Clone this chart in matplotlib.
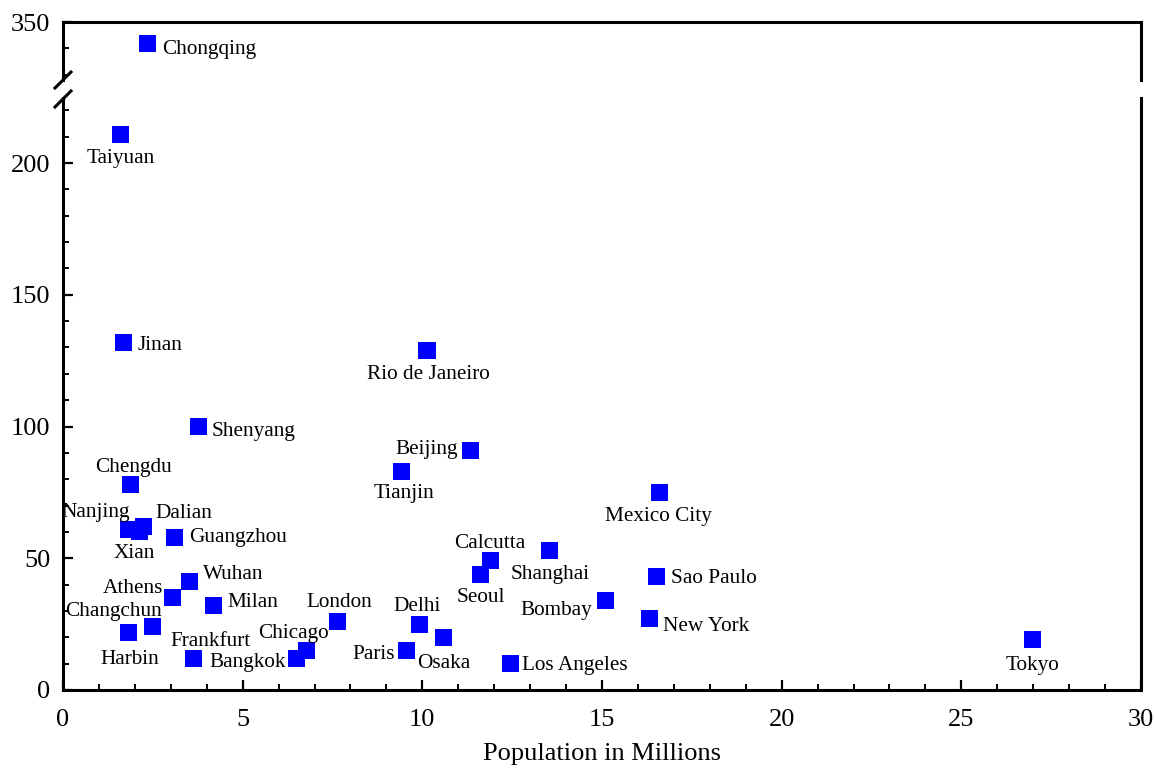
import matplotlib
matplotlib.use("Agg")
import matplotlib.pyplot as plt
from matplotlib.ticker import MultipleLocator
from matplotlib.lines import Line2D

plt.rcParams['font.family'] = ['Liberation Serif', 'DejaVu Serif']

# city data: population (millions) vs value
cities = ["Chongqing", "Taiyuan", "Jinan", "Rio de Janeiro", "Shenyang", "Beijing",
          "Tianjin", "Chengdu", "Mexico City", "Nanjing", "Dalian", "Xian",
          "Guangzhou", "Calcutta", "Shanghai", "Seoul", "Sao Paulo", "Wuhan",
          "Athens", "Bombay", "Milan", "New York", "London", "Delhi",
          "Changchun", "Harbin", "Frankfurt", "Bangkok", "Chicago", "Paris",
          "Osaka", "Los Angeles", "Tokyo"]
population = [2.34, 1.59, 1.67, 10.13, 3.76, 11.33,
              9.41, 1.89, 16.59, 1.81, 2.23, 2.12,
              3.09, 11.91, 13.55, 11.63, 16.53, 3.53,
              3.06, 15.11, 4.20, 16.31, 7.63, 9.91,
              2.48, 1.81, 3.62, 6.51, 6.79, 9.55,
              10.58, 12.44, 26.97]
values = [342, 211, 132, 129, 100, 91,
          83, 78, 75, 61, 62, 60,
          58, 49, 53, 44, 43, 41,
          35, 34, 32, 27, 26, 25,
          24, 22, 12, 12, 15, 15,
          20, 10, 19]

# label placement: (ha, dx, dy) in pixels, dy measured downward
label_pos = {
    "Chongqing": ("left", 15, 3), "Taiyuan": ("center", 1, 21),
    "Jinan": ("left", 15, 0), "Rio de Janeiro": ("center", 1, 21),
    "Shenyang": ("left", 14, 2), "Beijing": ("right", -12, -4),
    "Tianjin": ("center", 3, 19), "Chengdu": ("center", 3, -20),
    "Mexico City": ("center", -1, 21), "Nanjing": ("right", 2, -20),
    "Dalian": ("left", 12, -16), "Xian": ("center", -5, 19),
    "Guangzhou": ("left", 15, -3), "Calcutta": ("center", -1, -20),
    "Shanghai": ("center", 0, 21), "Seoul": ("center", 0, 20),
    "Sao Paulo": ("left", 14, -1), "Wuhan": ("left", 13, -10),
    "Athens": ("right", -10, -12), "Bombay": ("right", -14, 7),
    "Milan": ("left", 13, -6), "New York": ("left", 14, 5),
    "London": ("center", 2, -22), "Delhi": ("center", -2, -21),
    "Changchun": ("right", 10, -18), "Harbin": ("center", 2, 24),
    "Frankfurt": ("center", 17, -20), "Bangkok": ("right", -11, 1),
    "Chicago": ("center", -14, -20), "Paris": ("right", -11, 1),
    "Osaka": ("center", 1, 23), "Los Angeles": ("left", 12, -1),
    "Tokyo": ("center", 0, 23),
}

W, H = 1156, 768
fig = plt.figure(figsize=(W / 100, H / 100), dpi=100)

left, right = 63, 1141
top_ax = fig.add_axes([left / W, 1 - 80 / H, (right - left) / W, 58 / H])
bot_ax = fig.add_axes([left / W, 1 - 690 / H, (right - left) / W, 592 / H])

scale = 592 / 224.7
top_ax.set_ylim(350 - 58 / scale, 350)
bot_ax.set_ylim(0, 224.7)

for ax in (top_ax, bot_ax):
    ax.scatter(population, values, marker='s', s=150, color='#0000ff',
               edgecolors='none', zorder=3, clip_on=True)
    ax.set_xlim(0, 30)
    for sp in ax.spines.values():
        sp.set_linewidth(2.2)
    ax.yaxis.set_major_locator(MultipleLocator(50))
    ax.yaxis.set_minor_locator(MultipleLocator(10))
    ax.tick_params(axis='both', which='major', direction='in', length=7, width=1.6,
                   labelsize=19, pad=9)
    ax.tick_params(axis='x', which='major', pad=14)
    ax.tick_params(axis='both', which='minor', direction='in', length=4, width=1.4)
    ax.tick_params(right=False, top=False, which='both')

top_ax.spines['bottom'].set_visible(False)
top_ax.tick_params(axis='x', which='both', bottom=False, labelbottom=False)
bot_ax.spines['top'].set_visible(False)
bot_ax.xaxis.set_major_locator(MultipleLocator(5))
bot_ax.xaxis.set_minor_locator(MultipleLocator(1))
bot_ax.set_xlabel("Population in Millions", fontsize=19, labelpad=8)

for name, x, y in zip(cities, population, values):
    ha, dx, dy = label_pos[name]
    ax = top_ax if y > 300 else bot_ax
    ax.annotate(name, (x, y), xytext=(dx, -(dy + 3)), textcoords='offset pixels',
                ha=ha, va='center', fontsize=15.3, zorder=4)

# axis break marks on the left spine
for yc in (80, 99):
    fig.add_artist(Line2D([55 / W, 71 / W], [1 - (yc + 8) / H, 1 - (yc - 8) / H],
                          transform=fig.transFigure, color='black', lw=2.2))

fig.savefig("out.png", dpi=100)
